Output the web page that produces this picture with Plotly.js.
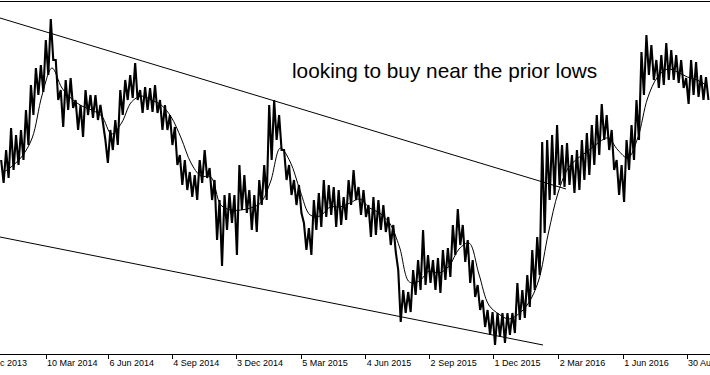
<!DOCTYPE html>
<html><head><meta charset="utf-8">
<script src="https://cdn.plot.ly/plotly-3.0.1.min.js"></script>
<style>html,body{margin:0;padding:0;background:#fff;overflow:hidden}#chart{width:710px;height:375px}</style>
</head><body><div id="chart"></div>
<script>
// weekly high / low of the price (index units), weeks starting 2014-01-04
const firstWeek = '2014-01-04';
const weeklyHigh = [
194,204,226,219,224,244,269,286,289,314,
335,294,264,274,276,254,249,264,259,259,
249,214,224,234,264,274,279,291,264,267,
266,269,254,249,239,227,199,194,182,179,
194,204,186,174,154,159,161,159,189,179,
164,159,174,189,249,254,239,204,189,174,
169,131,126,154,161,174,169,167,164,157,
174,184,167,164,149,157,154,149,137,129,
84,64,62,84,94,124,99,94,96,104,
106,129,145,129,114,94,69,54,44,42,
41,41,41,41,71,64,79,104,117,212,
214,219,229,209,211,199,204,214,221,229,
239,250,239,224,194,189,214,229,254,302,
319,309,294,299,311,304,299,294,276,294,
292,279,277];
const weeklyLow = [
171,176,184,189,194,209,239,259,262,279,
294,254,227,244,246,224,217,239,236,234,
232,191,204,209,239,254,256,254,241,244,
242,241,224,224,209,189,169,164,157,154,
171,176,154,114,88,124,131,99,144,141,
124,122,149,154,194,214,204,174,159,149,
141,104,99,124,127,137,139,127,129,134,
149,154,139,137,117,119,124,122,109,102,
32,41,42,59,64,69,71,64,61,74,
77,99,109,92,71,57,44,27,19,9,
17,11,19,21,34,36,47,64,79,121,
154,159,169,167,169,161,164,174,179,189,
199,214,204,184,159,152,184,194,214,259,
279,274,266,269,274,274,271,266,250,259,
257,254,254];
// moving average, one value every two weeks
const maValues = [
181,188,198,216,259,286,266,255,248,244,
238,220,231,252,258,254,249,237,216,191,
178,177,149,144,144,146,151,172,206,192,
163,139,138,147,147,151,155,146,141,131,
107,72,73,83,81,88,105,111,80,49,
40,35,40,51,73,121,162,186,196,203,
211,216,204,196,216,256,277,285,282,277,
274,268];
const tickDates = ['2014-03-10','2014-06-06','2014-09-04','2014-12-03','2015-03-05','2015-06-04','2015-09-02','2015-12-01','2016-03-02','2016-06-01','2016-08-30'];
const tickLabels = ['10 Mar 2014','6 Jun 2014','4 Sep 2014','3 Dec 2014','5 Mar 2015','4 Jun 2015','2 Sep 2015','1 Dec 2015','2 Mar 2016','1 Jun 2016','30 Aug 2016'];
const hiddenTickLabel = '10 Dec 2013';
const upperTrendDates = ['2014-01-04 03:00','2016-03-12 08:00'];
const upperTrendValues = [336,165];
const lowerTrendDates = ['2014-01-04 03:00','2016-02-08 22:00'];
const lowerTrendValues = [117,9];
const noteText = 'looking to buy near the prior lows';
const noteDate = '2015-02-17 12:00';
const noteValue = 284;
const viewRange = ['2014-01-04 03:00','2016-10-01 10:00'];

function addDays(base, d){
  const t = Date.parse(base + 'T00:00:00Z') + d*86400000;
  return new Date(t).toISOString().slice(0,19).replace('T',' ');
}
// price drawn as a dense zigzag between each week's high and low
const px = [], py = [];
for (let k = 0; k < weeklyHigh.length; k++){
  px.push(addDays(firstWeek, 7*k + 1.75)); py.push(weeklyHigh[k]);
  px.push(addDays(firstWeek, 7*k + 5.25)); py.push(weeklyLow[k]);
}
const mx = maValues.map((v, j) => addDays(firstWeek, 14*j + 3.5));

const traces = [
  {x: px, y: py, type: 'scatter', mode: 'lines', line: {color: '#000', width: 2.1}, hoverinfo: 'skip'},
  {x: mx, y: maValues, type: 'scatter', mode: 'lines', line: {color: '#000', width: 1, shape: 'spline', smoothing: 1}, hoverinfo: 'skip'},
  {x: upperTrendDates, y: upperTrendValues, type: 'scatter', mode: 'lines', line: {color: '#000', width: 1}, hoverinfo: 'skip'},
  {x: lowerTrendDates, y: lowerTrendValues, type: 'scatter', mode: 'lines', line: {color: '#000', width: 1}, hoverinfo: 'skip'}
];
const layout = {
  width: 710, height: 375,
  margin: {l: 0, r: 0, t: 2, b: 21, pad: 0},
  paper_bgcolor: '#fff', plot_bgcolor: '#fff',
  showlegend: false,
  xaxis: {
    type: 'date', range: viewRange, showgrid: false, zeroline: false,
    showline: true, linecolor: '#000', linewidth: 1, mirror: true,
    ticks: 'outside', ticklen: 4, tickcolor: '#000', tickwidth: 1,
    tickvals: tickDates, ticktext: tickLabels,
    ticklabelposition: 'outside right', ticklabeloverflow: 'allow',
    tickfont: {family: 'Liberation Sans, Arial, sans-serif', size: 9, color: '#000'}
  },
  yaxis: {range: [0, 352], visible: false, showgrid: false, zeroline: false},
  annotations: [
    {xref: 'x', yref: 'y', x: noteDate, y: noteValue, text: noteText, showarrow: false,
     xanchor: 'left', yanchor: 'middle',
     font: {family: 'Liberation Sans, Arial, sans-serif', size: 20.8, color: '#000'}},
    {xref: 'paper', yref: 'paper', x: -26/710, y: -0.006, text: hiddenTickLabel, showarrow: false,
     xanchor: 'left', yanchor: 'top',
     font: {family: 'Liberation Sans, Arial, sans-serif', size: 9, color: '#000'}}
  ]
};
Plotly.newPlot('chart', traces, layout, {displayModeBar: false, staticPlot: true});
</script>
</body></html>
